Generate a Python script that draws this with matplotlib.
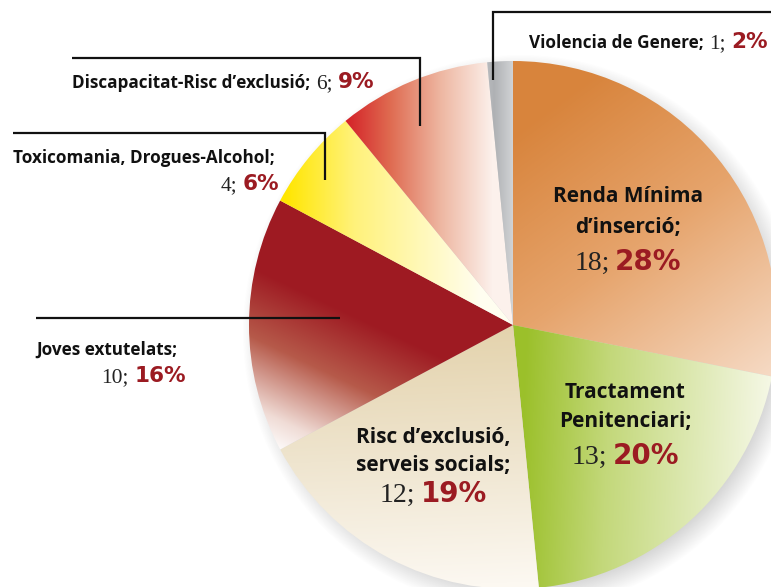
import numpy as np
import matplotlib
matplotlib.use("Agg")
import matplotlib.pyplot as plt
from matplotlib.offsetbox import TextArea, HPacker, AnnotationBbox
from matplotlib.colors import to_rgb

# ---- data ----
categories = ["Renda Mínima d’inserció", "Tractament Penitenciari",
              "Risc d’exclusió, serveis socials", "Joves extutelats",
              "Toxicomania, Drogues-Alcohol", "Discapacitat-Risc d’exclusió",
              "Violencia de Genere"]
counts = [18, 13, 12, 10, 4, 6, 1]
pcts = [28, 20, 19, 16, 6, 9, 2]

W, H = 771, 587
fig = plt.figure(figsize=(W / 100, H / 100), dpi=100)
ax = fig.add_axes([0, 0, 1, 1])


def Y(y):
    return H - y


CX, CY_IMG, R = 513, 325, 264

# ---- shadow ----
yy, xx = np.mgrid[0:H, 0:W].astype(float)
d = np.hypot(xx - (CX + 7), yy - (CY_IMG + 7))
a = 0.45 * np.clip((R + 14 - d) / 26, 0, 1)
sh = np.zeros((H, W, 4))
sh[..., :3] = 0.62
sh[..., 3] = a
ax.imshow(sh, extent=(0, W, 0, H), origin="upper", zorder=0, interpolation="bilinear")

# ---- pie ----
wedges, _ = ax.pie(counts, center=(CX, Y(CY_IMG)), radius=R, startangle=90,
                   counterclock=False, frame=True,
                   wedgeprops=dict(linewidth=0, edgecolor="none"))

# gradient styles per slice: p0, p1 (image px), stops
grads = [
    ((545, 110), (760, 400), [(0, "#D8843C"), (0.45, "#E6A46C"), (1, "#F7DECB")]),
    ((522, 420), (765, 430), [(0, "#9BC02A"), (0.35, "#C3D87A"), (1, "#F4F7E3")]),
    ((420, 330), (430, 585), [(0, "#E4D3AD"), (0.5, "#EFE5CF"), (1, "#FCF8F1")]),
    ((360, 260), (270, 450), [(0, "#9E1A22"), (0.25, "#9E1A22"), (0.55, "#B65A4A"),
                              (0.85, "#F0DCD6"), (1, "#FFFFFF")]),
    ((285, 0), (480, 0), [(0, "#FFE600"), (0.35, "#FFF27A"), (1, "#FFFEF0")]),
    ((345, 0), (492, 0), [(0, "#D42027"), (0.3, "#DF6A50"), (0.65, "#EEB7A2"), (1, "#FCF1EC")]),
    ((478, 0), (513, 0), [(0, "#C3C5C8"), (0.45, "#AFB1B4"), (1, "#D2D4D6")]),
]

for w, (p0, p1, stops) in zip(wedges, grads):
    w.set_facecolor("none")
    v = np.array(p1, float) - np.array(p0, float)
    L2 = (v ** 2).sum()
    t = ((xx - p0[0]) * v[0] + (yy - p0[1]) * v[1]) / L2
    t = np.clip(t, 0, 1)
    ts = np.array([s[0] for s in stops])
    cs = np.array([to_rgb(s[1]) for s in stops])
    img = np.stack([np.interp(t, ts, cs[:, k]) for k in range(3)], axis=-1)
    im = ax.imshow(img, extent=(0, W, 0, H), origin="upper", zorder=1,
                   interpolation="bilinear")
    im.set_clip_path(w)

ax.set_xlim(0, W)
ax.set_ylim(0, H)
ax.set_aspect("equal")
ax.axis("off")

# ---- leader lines ----
leaders = [
    [(771, 12), (493, 12), (493, 80)],
    [(72, 58), (420, 58), (420, 126)],
    [(13, 133), (325, 133), (325, 180)],
    [(36, 318), (340, 318)],
]
for pts in leaders:
    ax.plot([p[0] for p in pts], [Y(p[1]) for p in pts], color="#111111",
            lw=1.6, solid_capstyle="butt", solid_joinstyle="miter", zorder=3)

# ---- text ----
LAB = dict(family="Open Sans", weight="bold", size=12.3, color="#111111")
NUM = dict(family="Liberation Serif", size=15.5, color="#222222")
PCT = dict(family="DejaVu Sans", weight="bold", size=15.5, color="#9B1B22")
BLAB = dict(family="Open Sans", weight="bold", size=15, color="#111111")
BNUM = dict(family="Liberation Serif", size=20, color="#222222")
BPCT = dict(family="DejaVu Sans", weight="bold", size=20, color="#9B1B22")


def put(x, y, parts, ha):
    box = HPacker(children=[TextArea(s, textprops=p) for s, p in parts],
                  align="baseline", pad=0, sep=4)
    ab = AnnotationBbox(box, (x, Y(y)), xycoords="data", frameon=False,
                        box_alignment=(ha, 0.5), pad=0)
    ax.add_artist(ab)


def numpct(i, big=False):
    n, p = (BNUM, BPCT) if big else (NUM, PCT)
    return [(f"{counts[i]};", n), (f"{pcts[i]}%", p)]


# Violencia
put(768, 43, [("Violencia de Genere;", LAB)] + numpct(6), 1.0)
# Discapacitat
put(72, 83, [("Discapacitat-Risc d’exclusió;", LAB)] + numpct(5), 0.0)
# Toxicomania
put(13, 158, [("Toxicomania, Drogues-Alcohol;", LAB)], 0.0)
put(279, 185, numpct(4), 1.0)
# Joves
put(36, 350, [("Joves extutelats;", LAB)], 0.0)
put(186, 377, numpct(3), 1.0)
# Renda
put(628, 197, [("Renda Mínima", BLAB)], 0.5)
put(628, 228, [("d’inserció;", BLAB)], 0.5)
put(628, 262, numpct(0, True), 0.5)
# Tractament
put(625, 393, [("Tractament", BLAB)], 0.5)
put(625, 421, [("Penitenciari;", BLAB)], 0.5)
put(625, 456, numpct(1, True), 0.5)
# Risc
put(433, 437, [("Risc d’exclusió,", BLAB)], 0.5)
put(433, 465, [("serveis socials;", BLAB)], 0.5)
put(433, 494, numpct(2, True), 0.5)

fig.savefig("out.png", dpi=100)
